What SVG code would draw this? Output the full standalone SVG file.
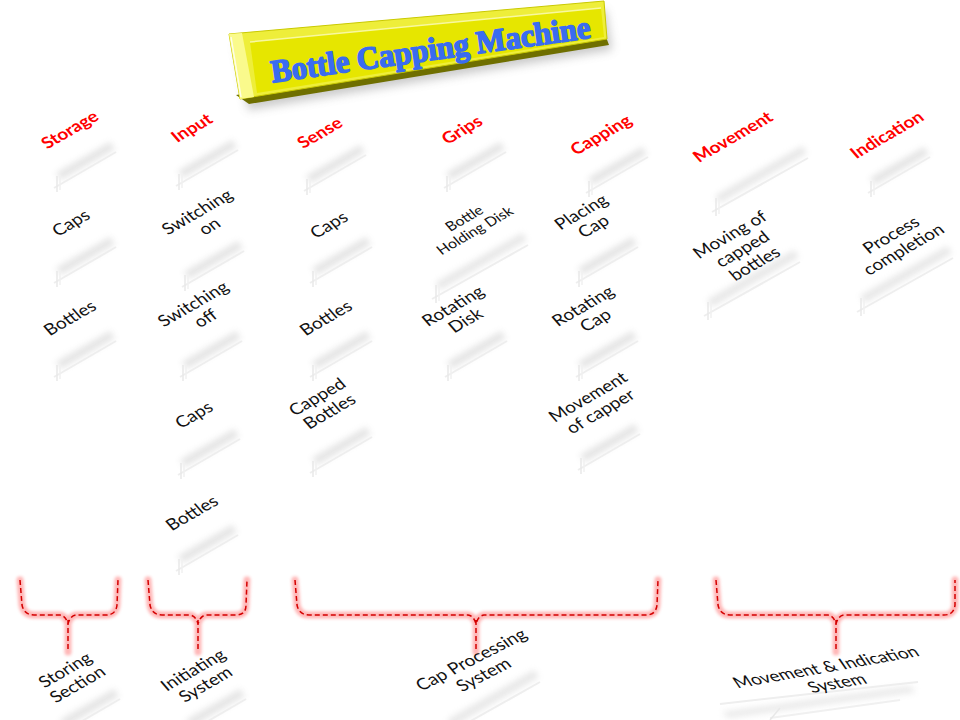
<svg xmlns="http://www.w3.org/2000/svg" xmlns:xlink="http://www.w3.org/1999/xlink" width="960" height="720" viewBox="0 0 960 720">
<defs>
<style>
.hdr{font-family:Lato,"Open Sans","Liberation Sans",sans-serif;font-weight:700;font-size:18px;fill:#ff0000;text-anchor:middle}
.lbl{font-family:Lato,"Open Sans","Liberation Sans",sans-serif;font-size:18px;fill:#111;text-anchor:middle}
.sm{font-size:15px}
.glow{fill:none;stroke:#ff7d7d;stroke-width:7;opacity:.55;filter:url(#blur2);stroke-linecap:round;stroke-linejoin:round}
.dash{fill:none;stroke:#d40000;stroke-width:1.5;stroke-dasharray:5 3;stroke-linejoin:round}
</style>
<filter id="blur3" x="-50%" y="-50%" width="200%" height="200%"><feGaussianBlur stdDeviation="3"/></filter>
<filter id="blur2" x="-20%" y="-20%" width="140%" height="140%"><feGaussianBlur stdDeviation="1.8"/></filter>
<filter id="blur5" x="-20%" y="-50%" width="140%" height="200%"><feGaussianBlur stdDeviation="5"/></filter>
<g id="slab">
<polygon points="-28,10 26,-21 31,-14 -23,17" fill="#c4c4c4" opacity=".45" filter="url(#blur3)"/>
<line x1="-30" y1="25" x2="32" y2="-11" stroke="#eeeeee" stroke-width="2"/>
<line x1="-27" y1="13" x2="-27" y2="29" stroke="#e8e8e8" stroke-width="1.5"/>
<line x1="-24" y1="12" x2="-24" y2="27" stroke="#f0f0f0" stroke-width="1.5"/>
</g>
<g id="slabL">
<polygon points="-45,18 42,-32 47,-25 -40,25" fill="#c4c4c4" opacity=".4" filter="url(#blur3)"/>
<line x1="-48" y1="34" x2="48" y2="-20" stroke="#eeeeee" stroke-width="2"/>
<line x1="-44" y1="20" x2="-44" y2="38" stroke="#e8e8e8" stroke-width="1.5"/>
<line x1="-41" y1="19" x2="-41" y2="36" stroke="#f0f0f0" stroke-width="1.5"/>
</g>
</defs>
<rect width="960" height="720" fill="#ffffff"/>

<g id="title">
<polygon points="236,44 606,10 612,50 248,110" fill="#8a8a8a" opacity=".45" filter="url(#blur5)"/>
<polygon points="236,95 606,37 609,45 249,104" fill="#6f6f00"/>
<polygon points="229,34 604,1 607,39 240,99" fill="#eeee3a" stroke="#c9c900" stroke-width="1" stroke-linejoin="round"/>
<polygon points="229,34 242,33 254,97 240,99" fill="#fafa8c"/>
<line x1="231" y1="37" x2="241" y2="97" stroke="#ffffff" stroke-width="1.5" opacity=".8"/>
<polygon points="250,42 601,8 604,37 257,93" fill="#e6e600"/>
<line x1="250" y1="42" x2="601" y2="8" stroke="#f8f8a0" stroke-width="1.5"/>
<text transform="translate(432,60) rotate(-8)" font-family="'Liberation Serif','DejaVu Serif',serif" font-weight="700" font-size="32" fill="#3a6cf0" stroke="#3a6cf0" stroke-width="1.6" stroke-linejoin="round" text-anchor="middle" textLength="322" lengthAdjust="spacingAndGlyphs">Bottle Capping Machine</text>
</g>

<g id="slabs">
<use xlink:href="#slab" x="84" y="163"/>
<use xlink:href="#slab" x="206" y="161"/>
<use xlink:href="#slab" x="334" y="166"/>
<use xlink:href="#slab" x="474" y="163"/>
<use xlink:href="#slab" x="616" y="168"/>
<use xlink:href="#slabL" x="760" y="178"/>
<use xlink:href="#slab" x="898" y="168"/>
<use xlink:href="#slab" x="84" y="258"/>
<use xlink:href="#slab" x="84" y="352"/>
<use xlink:href="#slab" x="212" y="262"/>
<use xlink:href="#slab" x="210" y="352"/>
<use xlink:href="#slab" x="208" y="450"/>
<use xlink:href="#slab" x="206" y="546"/>
<use xlink:href="#slab" x="340" y="258"/>
<use xlink:href="#slab" x="340" y="352"/>
<use xlink:href="#slab" x="340" y="448"/>
<use xlink:href="#slabL" x="480" y="265"/>
<use xlink:href="#slab" x="475" y="352"/>
<use xlink:href="#slab" x="606" y="258"/>
<use xlink:href="#slab" x="606" y="352"/>
<use xlink:href="#slab" x="608" y="445"/>
<use xlink:href="#slabL" x="752" y="282"/>
<use xlink:href="#slabL" x="905" y="278"/>
<use xlink:href="#slab" x="88" y="710"/>
<use xlink:href="#slab" x="214" y="710"/>
<use xlink:href="#slabL" x="492" y="702"/>
</g>
<g id="bottomSlab">
<polygon points="722,712 910,686 916,692 728,718" fill="#c8c8c8" opacity=".4" filter="url(#blur3)"/>
<line x1="720" y1="704" x2="918" y2="682" stroke="#eeeeee" stroke-width="2"/>
<line x1="770" y1="718" x2="900" y2="700" stroke="#f0f0f0" stroke-width="2"/>
<line x1="780" y1="708" x2="770" y2="720" stroke="#e8e8e8" stroke-width="1.5"/>
</g>

<g id="connectors">
<path class="glow" d="M20,580 L22,605 Q24,615 34,615 L60,615 Q66,616 68,624 Q70,616 76,615 L106,615 Q116,615 117,605 L118,580 M68,620 L68,652"/>
<path class="dash" d="M20,580 L22,605 Q24,615 34,615 L60,615 Q66,616 68,624 Q70,616 76,615 L106,615 Q116,615 117,605 L118,580 M68,620 L68,652"/>
<path class="glow" d="M148,580 L150,605 Q152,615 162,615 L190,615 Q196,616 198,624 Q200,616 206,615 L236,615 Q246,615 246,605 L247,580 M198,620 L198,652"/>
<path class="dash" d="M148,580 L150,605 Q152,615 162,615 L190,615 Q196,616 198,624 Q200,616 206,615 L236,615 Q246,615 246,605 L247,580 M198,620 L198,652"/>
<path class="glow" d="M295,580 L297,605 Q299,615 309,615 L468,615 Q474,616 476,624 Q478,616 484,615 L646,615 Q656,615 657,605 L658,580 M476,620 L476,652"/>
<path class="dash" d="M295,580 L297,605 Q299,615 309,615 L468,615 Q474,616 476,624 Q478,616 484,615 L646,615 Q656,615 657,605 L658,580 M476,620 L476,652"/>
<path class="glow" d="M716,580 L718,605 Q720,615 730,615 L828,615 Q834,616 836,624 Q838,616 844,615 L944,615 Q954,615 955,605 L955,580 M836,620 L836,652"/>
<path class="dash" d="M716,580 L718,605 Q720,615 730,615 L828,615 Q834,616 836,624 Q838,616 844,615 L944,615 Q954,615 955,605 L955,580 M836,620 L836,652"/>
</g>

<g id="h-storage" transform="translate(70,130) matrix(0.866,-0.5,0.62,0.72,0,0)"><text class="hdr" y="6">Storage</text></g>
<g id="h-input" transform="translate(192,128) matrix(0.866,-0.5,0.62,0.72,0,0)"><text class="hdr" y="6">Input</text></g>
<g id="h-sense" transform="translate(320,133) matrix(0.866,-0.5,0.62,0.72,0,0)"><text class="hdr" y="6">Sense</text></g>
<g id="h-grips" transform="translate(462,130) matrix(0.866,-0.5,0.62,0.72,0,0)"><text class="hdr" y="6">Grips</text></g>
<g id="h-capping" transform="translate(601,135) matrix(0.866,-0.5,0.62,0.72,0,0)"><text class="hdr" y="6">Capping</text></g>
<g id="h-movement" transform="translate(733,137) matrix(0.866,-0.5,0.62,0.72,0,0)"><text class="hdr" y="6">Movement</text></g>
<g id="h-indication" transform="translate(887,135) matrix(0.866,-0.5,0.62,0.72,0,0)"><text class="hdr" y="6">Indication</text></g>

<g id="n-storage-caps" transform="translate(71,223) matrix(0.866,-0.5,0.62,0.72,0,0)"><text class="lbl" y="6">Caps</text></g>
<g id="n-storage-bottles" transform="translate(70,318) matrix(0.866,-0.5,0.62,0.72,0,0)"><text class="lbl" y="6">Bottles</text></g>
<g id="n-switch-on" transform="translate(204,220) matrix(0.866,-0.5,0.62,0.72,0,0)"><text class="lbl"><tspan x="0" y="-5">Switching</tspan><tspan x="0" y="15">on</tspan></text></g>
<g id="n-switch-off" transform="translate(200,312) matrix(0.866,-0.5,0.62,0.72,0,0)"><text class="lbl"><tspan x="0" y="-5">Switching</tspan><tspan x="0" y="15">off</tspan></text></g>
<g id="n-input-caps" transform="translate(194,415) matrix(0.866,-0.5,0.62,0.72,0,0)"><text class="lbl" y="6">Caps</text></g>
<g id="n-input-bottles" transform="translate(192,513) matrix(0.866,-0.5,0.62,0.72,0,0)"><text class="lbl" y="6">Bottles</text></g>
<g id="n-sense-caps" transform="translate(329,225) matrix(0.866,-0.5,0.62,0.72,0,0)"><text class="lbl" y="6">Caps</text></g>
<g id="n-sense-bottles" transform="translate(326,318) matrix(0.866,-0.5,0.62,0.72,0,0)"><text class="lbl" y="6">Bottles</text></g>
<g id="n-capped-bottles" transform="translate(324,405) matrix(0.866,-0.5,0.62,0.72,0,0)"><text class="lbl"><tspan x="0" y="-5">Capped</tspan><tspan x="0" y="15">Bottles</tspan></text></g>
<g id="n-holding-disk" transform="translate(470,225) matrix(0.866,-0.5,0.62,0.72,0,0)"><text class="lbl sm"><tspan x="0" y="-4">Bottle</tspan><tspan x="0" y="13">Holding Disk</tspan></text></g>
<g id="n-rotating-disk" transform="translate(460,314) matrix(0.866,-0.5,0.62,0.72,0,0)"><text class="lbl"><tspan x="0" y="-5">Rotating</tspan><tspan x="0" y="15">Disk</tspan></text></g>
<g id="n-placing-cap" transform="translate(588,220) matrix(0.866,-0.5,0.62,0.72,0,0)"><text class="lbl"><tspan x="0" y="-5">Placing</tspan><tspan x="0" y="15">Cap</tspan></text></g>
<g id="n-rotating-cap" transform="translate(590,314) matrix(0.866,-0.5,0.62,0.72,0,0)"><text class="lbl"><tspan x="0" y="-5">Rotating</tspan><tspan x="0" y="15">Cap</tspan></text></g>
<g id="n-movement-capper" transform="translate(595,405) matrix(0.866,-0.5,0.62,0.72,0,0)"><text class="lbl"><tspan x="0" y="-5">Movement</tspan><tspan x="0" y="15">of capper</tspan></text></g>
<g id="n-moving-bottles" transform="translate(743,250) matrix(0.866,-0.5,0.62,0.72,0,0)"><text class="lbl"><tspan x="0" y="-15">Moving of</tspan><tspan x="0" y="5">capped</tspan><tspan x="0" y="25">bottles</tspan></text></g>
<g id="n-process-completion" transform="translate(898,243) matrix(0.866,-0.5,0.62,0.72,0,0)"><text class="lbl"><tspan x="0" y="-5">Process</tspan><tspan x="0" y="15">completion</tspan></text></g>

<g id="n-storing-section" transform="translate(72,678) matrix(0.866,-0.5,0.62,0.72,0,0)"><text class="lbl"><tspan x="0" y="-5">Storing</tspan><tspan x="0" y="15">Section</tspan></text></g>
<g id="n-initiating-system" transform="translate(200,678) matrix(0.866,-0.5,0.62,0.72,0,0)"><text class="lbl"><tspan x="0" y="-5">Initiating</tspan><tspan x="0" y="15">System</tspan></text></g>
<g id="n-cap-processing" transform="translate(478,668) matrix(0.891,-0.454,0.62,0.75,0,0)"><text class="lbl"><tspan x="0" y="-5">Cap Processing</tspan><tspan x="0" y="15">System</tspan></text></g>
<g id="n-movement-indication" transform="translate(832,676) matrix(0.985,-0.174,0.55,0.8,0,0)"><text class="lbl"><tspan x="0" y="-5">Movement &amp; Indication</tspan><tspan x="0" y="15">System</tspan></text></g>
</svg>
